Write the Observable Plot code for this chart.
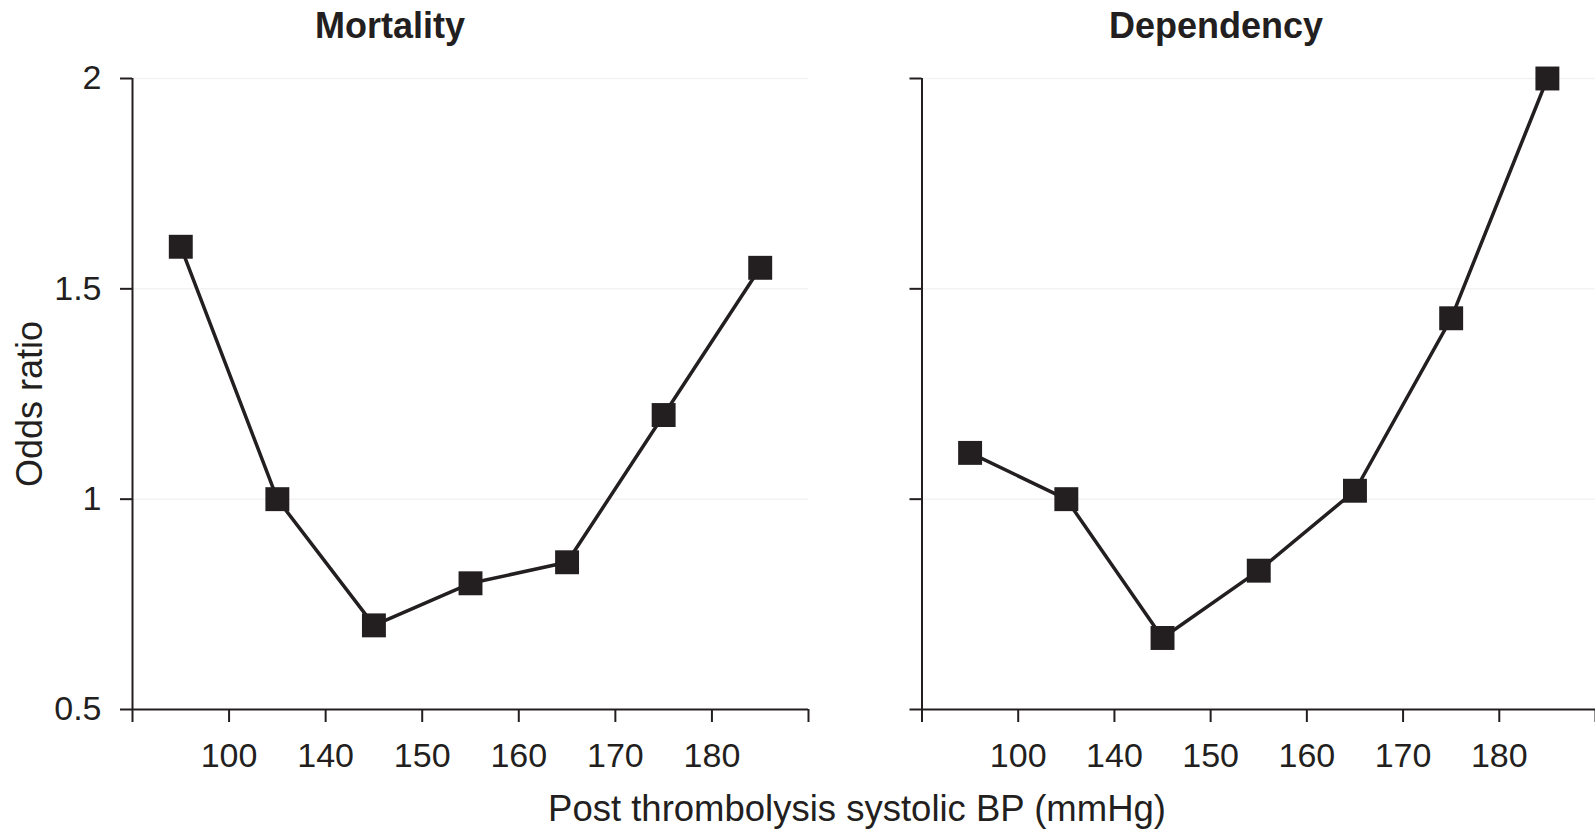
<!DOCTYPE html>
<html>
<head>
<meta charset="utf-8">
<script src="https://cdn.jsdelivr.net/npm/d3@7"></script>
<script src="https://cdn.jsdelivr.net/npm/@observablehq/plot@0.6"></script>
<style>
  html, body { margin: 0; padding: 0; background: #fff; }
  #wrap { position: relative; width: 1595px; height: 830px; overflow: hidden; font-family: "Liberation Sans", Arial, sans-serif; color: #231f20; }
  .panel { position: absolute; top: 0; }
  .title { position: absolute; font-weight: bold; font-size: 36px; line-height: 36px; white-space: nowrap; transform: translateX(-50%); }
  #xlabel { position: absolute; font-size: 36.5px; line-height: 36px; white-space: nowrap; transform: translateX(-50%); }
  #ylabel { position: absolute; font-size: 36px; line-height: 36px; white-space: nowrap; transform: translate(-50%, -50%) rotate(-90deg); }
</style>
</head>
<body>
<div id="wrap">
  <div id="left" class="panel" style="left:0px"></div>
  <div id="right" class="panel" style="left:800px"></div>
  <div class="title" style="left:390px; top:8px">Mortality</div>
  <div class="title" style="left:1216px; top:8px">Dependency</div>
  <div id="xlabel" style="left:857px; top:791px">Post thrombolysis systolic BP (mmHg)</div>
  <div id="ylabel" style="left:30px; top:404px">Odds ratio</div>
</div>
<script>
// BP categories (bins) and boundary tick labels
const categories = ["<100", "100-139", "140-149", "150-159", "160-169", "170-179", ">=180"];
const boundaryLabels = ["", "100", "140", "150", "160", "170", "180", ""];
const mortality = [1.60, 1.00, 0.70, 0.80, 0.85, 1.20, 1.55];
const dependency = [1.11, 1.00, 0.67, 0.83, 1.02, 1.43, 2.00];
const yTicks = [0.5, 1, 1.5, 2];

const ink = "#231f20";
const boundaries = boundaryLabels.map((_, i) => i);

function panel(values, opts) {
  const data = categories.map((c, i) => ({cat: c, pos: i + 0.5, value: values[i]}));
  return Plot.plot({
    width: opts.width,
    height: 780,
    marginLeft: opts.marginLeft,
    marginRight: opts.marginRight,
    marginTop: 78,
    marginBottom: 71,
    style: {fontFamily: "'Liberation Sans', Arial, sans-serif", fontSize: "34px", color: ink, background: "transparent", overflow: "visible"},
    x: {domain: [0, categories.length]},
    y: {domain: [0.5, 2]},
    marks: [
      Plot.gridY([1, 1.5, 2], {stroke: "#f3f3f3", strokeOpacity: 1, strokeWidth: 1.5}),
      Plot.axisY(yTicks, {
        tickSize: 12, tickPadding: 19, strokeWidth: 2, stroke: ink,
        tickFormat: opts.yLabels ? (d => String(d)) : (() => ""),
        label: null, fontSize: 34
      }),
      Plot.axisX(boundaries, {
        tickSize: 13, tickPadding: 20, strokeWidth: 2, stroke: ink,
        tickFormat: i => boundaryLabels[i], label: null, fontSize: 34
      }),
      Plot.ruleX([0], {stroke: ink, strokeWidth: 2}),
      Plot.ruleY([0.5], {stroke: ink, strokeWidth: 2}),
      Plot.line(data, {x: "pos", y: "value", stroke: ink, strokeWidth: 3.5}),
      Plot.dot(data, {x: "pos", y: "value", symbol: "square", r: 13.5, fill: ink, stroke: "none"})
    ]
  });
}

document.getElementById("left").append(panel(mortality, {width: 820, marginLeft: 132, marginRight: 12, yLabels: true}));
document.getElementById("right").append(panel(dependency, {width: 795, marginLeft: 121.5, marginRight: 0, yLabels: false}));
</script>
</body>
</html>
